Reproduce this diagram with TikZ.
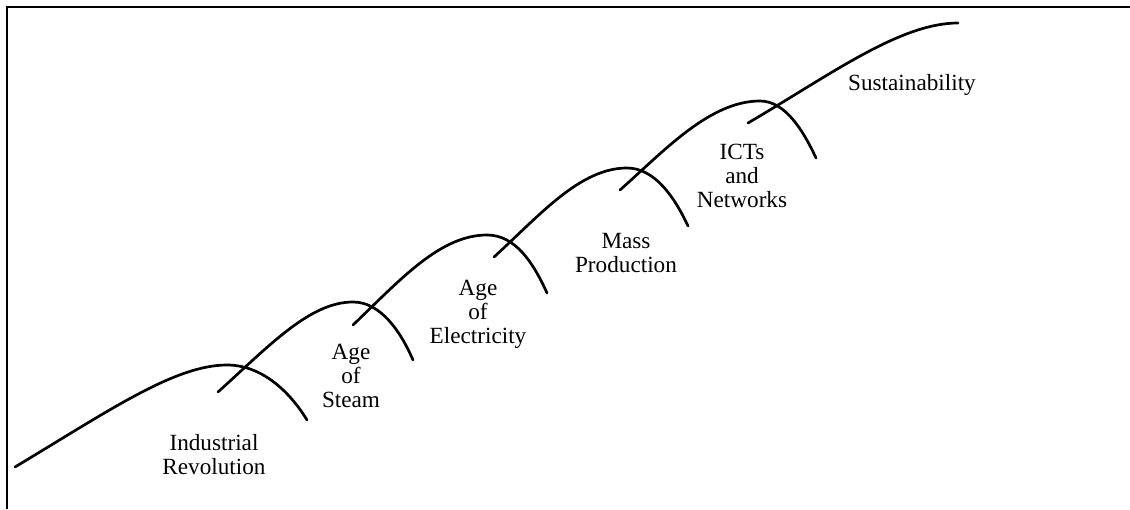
\documentclass[tikz,border=0pt]{standalone}
\usepackage{fontspec}
\setmainfont{Liberation Serif}
\begin{document}
\begin{tikzpicture}[x=0.5pt,y=-0.5pt,
  wave/.style={line width=1.35pt, line cap=round},
  frameline/.style={line width=1pt},
  lbl/.style={font=\fontsize{11.6}{12}\selectfont, align=center, inner sep=0pt, anchor=base}]
\useasboundingbox (0,0) rectangle (1130,509);
% frame
\draw[frameline] (7,509) -- (7,7) -- (1130,7);
% curves
\draw[wave] (15,467) .. controls (110,410) and (175,365) .. (227,365)
  .. controls (262,365) and (290,392) .. (307,420);
\draw[wave] (218,392) .. controls (270,345) and (310,302) .. (353,302)
  .. controls (380,302) and (400,330) .. (413,360);
\draw[wave] (353,325) .. controls (400,280) and (440,235) .. (487,235)
  .. controls (515,235) and (533,262) .. (547,293);
\draw[wave] (494,257) .. controls (540,215) and (580,168) .. (627,168)
  .. controls (655,168) and (675,198) .. (688,226);
\draw[wave] (620,190) .. controls (665,150) and (710,101) .. (760,101)
  .. controls (785,101) and (803,130) .. (816,158);
\draw[wave] (748,123) .. controls (830,75) and (900,23) .. (958,23);
% labels (anchor = baseline of the last line)
\node[lbl] (ir) at (214,474) {Industrial\\Revolution};
\node[lbl] (as) at (351,407) {Age\\of\\Steam};
\node[lbl] (ae) at (478,343) {Age\\of\\Electricity};
\node[lbl] (mp) at (626,272) {Mass\\Production};
\node[lbl] (ict) at (742,207) {ICTs\\and\\Networks};
\node[lbl] (su) at (912,90) {Sustainability};
\end{tikzpicture}
\end{document}
